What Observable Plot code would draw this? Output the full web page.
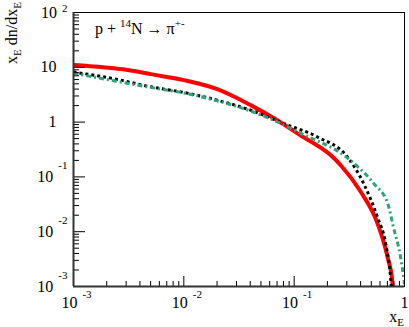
<!DOCTYPE html>
<html>
<head>
<meta charset="utf-8">
<script src="https://cdn.jsdelivr.net/npm/d3@7"></script>
<script src="https://cdn.jsdelivr.net/npm/@observablehq/plot@0.6"></script>
<style>
  html, body { margin: 0; padding: 0; background: #fff; }
  svg { display: block; }
</style>
</head>
<body>
<div id="chart"></div>
<script>
// x_E values and x_E dn/dx_E for each model curve
const redX   = [0.001, 0.0031, 0.005, 0.01, 0.0201, 0.0403, 0.0703, 0.114, 0.214, 0.263, 0.40, 0.57, 0.703, 0.78, 0.80];
const redY   = [11.0, 8.9, 7.5, 5.83, 3.99, 2.04, 1.08, 0.575, 0.25, 0.165, 0.054, 0.0141, 0.0034, 0.00113, 0.0006];

const blackX = [0.001, 0.0025, 0.005, 0.01, 0.0201, 0.0403, 0.0805, 0.162, 0.306, 0.426, 0.57, 0.675, 0.748, 0.77];
const blackY = [8.2, 6.0, 4.4, 3.48, 2.51, 1.65, 0.94, 0.537, 0.228, 0.076, 0.0182, 0.0061, 0.00146, 0.0007];

const greenX = [0.001, 0.005, 0.01, 0.02, 0.04, 0.08, 0.114, 0.306, 0.525, 0.703, 0.795, 0.922, 0.99, 1.0];
const greenY = [7.8, 4.3, 3.4, 2.45, 1.6, 0.9, 0.63, 0.219, 0.076, 0.033, 0.012, 0.0034, 0.0013, 0.0011];

// axis ticks
const xMajor = [1e-3, 1e-2, 1e-1, 1];
const yMajor = [1e-3, 1e-2, 1e-1, 1, 10, 100];
const xLabels = ["10^-3", "10^-2", "10^-1", "1"];
const yLabels = ["10^-3", "10^-2", "10^-1", "1", "10", "10^2"];
const minorMult = [2, 3, 4, 5, 6, 7, 8, 9];

const xMinor = xMajor.slice(0, -1).flatMap(d => minorMult.map(m => d * m));
const yMinor = yMajor.slice(0, -1).flatMap(d => minorMult.map(m => d * m));

const toRows = (xs, ys) => xs.map((x, i) => ({x, y: ys[i]}));

const W = 409, H = 327, mL = 73, mR = 5, mT = 12, mB = 41;
const innerW = W - mL - mR, innerH = H - mT - mB;

const fmtX = d => xLabels[xMajor.findIndex(v => Math.abs(v - d) / v < 1e-6)];
const fmtY = d => yLabels[yMajor.findIndex(v => Math.abs(v - d) / v < 1e-6)];

const chart = Plot.plot({
  width: W, height: H,
  marginLeft: mL, marginRight: mR, marginTop: mT, marginBottom: mB,
  style: {fontFamily: "'Liberation Serif', 'DejaVu Serif', serif", fontSize: "16px", background: "#fff", color: "#000"},
  x: {type: "log", domain: [1e-3, 1]},
  y: {type: "log", domain: [1e-3, 100]},
  marks: [
    Plot.line(toRows(redX, redY), {x: "x", y: "y", stroke: "#ff0000", strokeWidth: 4, curve: "monotone-x", clip: true}),
    Plot.line(toRows(blackX, blackY), {x: "x", y: "y", stroke: "#000", strokeWidth: 3, strokeDasharray: "3,3", strokeLinecap: "butt", curve: "monotone-x", clip: true}),
    Plot.line(toRows(greenX, greenY), {x: "x", y: "y", stroke: "#2da37a", strokeWidth: 3, strokeDasharray: "5,3,2,3", strokeLinecap: "butt", curve: "monotone-x", clip: true}),
    Plot.tickX(xMinor, {x: d => d, insetTop: innerH - 5, stroke: "#000", strokeWidth: 1}),
    Plot.tickX(xMajor, {x: d => d, insetTop: innerH - 10, stroke: "#000", strokeWidth: 1}),
    Plot.tickY(yMinor, {y: d => d, insetRight: innerW - 6, stroke: "#000", strokeWidth: 1}),
    Plot.tickY(yMajor, {y: d => d, insetRight: innerW - 12, stroke: "#000", strokeWidth: 1}),
    Plot.frame({stroke: "#000", strokeWidth: 1}),
    Plot.ruleX([1e-3], {stroke: "#333", strokeWidth: 2}),
    Plot.ruleY([1e-3], {stroke: "#333", strokeWidth: 2}),
    Plot.axisX({ticks: xMajor, tickSize: 0, tickPadding: 10, tickFormat: fmtX, label: null}),
    Plot.axisY({ticks: yMajor, tickSize: 0, tickPadding: 6, tickFormat: fmtY, label: null})
  ]
});

document.getElementById("chart").appendChild(chart);

// superscript exponents in tick labels
function supers(sel, raiseFn, shift, plainShift) {
  sel.each(function () {
    const t = this.textContent;
    const s = d3.select(this);
    if (t.includes("^")) {
      const [b, e] = t.split("^");
      this.textContent = "";
      s.append("tspan").text(b);
      s.append("tspan").attr("dx", 5).attr("dy", -raiseFn(e)).attr("font-size", 11).text(e);
      if (shift) s.attr("dx", shift);
    } else if (plainShift) {
      s.attr("dx", plainShift);
    }
  });
}
supers(d3.select(chart).selectAll('g[aria-label="x-axis tick label"] text'), () => 10, 3, 0);
supers(d3.select(chart).selectAll('g[aria-label="y-axis tick label"] text'), e => e === "2" ? 6 : 13, 0, -11);

const svg = d3.select(chart);
const ff = "'Liberation Serif', 'DejaVu Serif', serif";

// y-axis title
const yt = svg.append("text")
  .attr("transform", "translate(17,2) rotate(-90)")
  .attr("text-anchor", "end").attr("font-family", ff).attr("font-size", 16).attr("fill", "#000");
yt.append("tspan").text("x");
yt.append("tspan").attr("dy", 4).attr("font-size", 11).text("E");
yt.append("tspan").attr("dy", -4).text(" dn/dx");
yt.append("tspan").attr("dy", 4).attr("font-size", 11).text("E");

// x-axis title
const xt = svg.append("text")
  .attr("x", 404).attr("y", 322)
  .attr("text-anchor", "end").attr("font-family", ff).attr("font-size", 16).attr("fill", "#000");
xt.append("tspan").text("x");
xt.append("tspan").attr("dy", 4).attr("font-size", 11).text("E");

// reaction label
const rl = svg.append("text")
  .attr("x", 95).attr("y", 34)
  .attr("text-anchor", "start")
  .attr("font-family", ff).attr("font-size", 16).attr("fill", "#000");
rl.append("tspan").text("p + ");
rl.append("tspan").attr("dy", -7).attr("font-size", 11).text("14");
rl.append("tspan").attr("dy", 7).text("N \u2192 \u03c0");
rl.append("tspan").attr("dy", -7).attr("font-size", 11).text("+-");
</script>
</body>
</html>
